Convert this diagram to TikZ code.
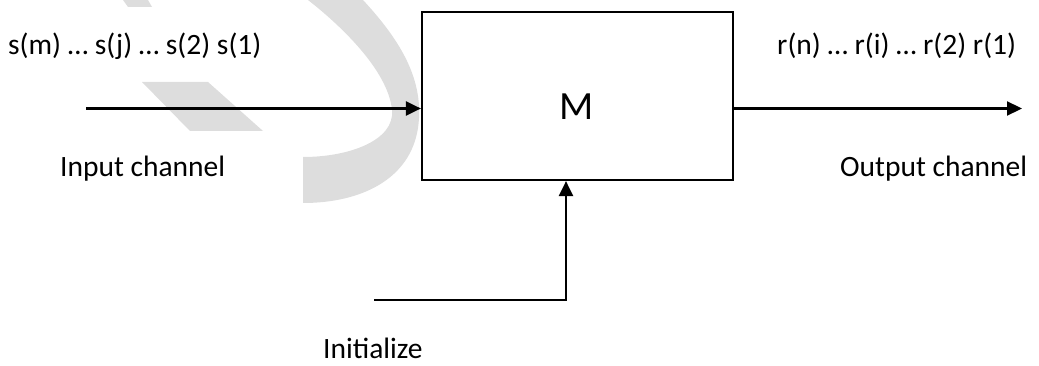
\documentclass[tikz,border=0pt]{standalone}
\usepackage{fontspec}
\setmainfont{Carlito}
\usetikzlibrary{arrows.meta}
\begin{document}
\begin{tikzpicture}[x=1pt,y=-1pt,
  lbl/.style={anchor=base west,inner sep=0pt,font=\fontsize{29.5}{32}\selectfont},
  conn/.style={line width=2.2pt,-{Triangle[length=15pt,width=14pt]}},
  wm/.style={fill={rgb,255:red,221;green,221;blue,221},draw=none}]
\useasboundingbox (0,0) rectangle (1039,366);
% watermark
\fill[wm] (123,0) -- (148,0) -- (152,7) -- (128,7) -- cycle;
\fill[wm] (142,82) -- (208,82) -- (263,131) -- (190,131) -- cycle;
\fill[wm] (308,0) -- (363,0) .. controls (400,40) and (425,80) .. (418,128)
  .. controls (410,180) and (360,203) .. (303,203) -- (303,157)
  .. controls (350,157) and (395,140) .. (392,110)
  .. controls (388,70) and (340,25) .. (308,0) -- cycle;
% box
\node[draw,line width=2.2pt,fill=white,minimum width=311pt,minimum height=168pt,inner sep=0pt] (m) at (577.5,96) {};
\node[anchor=base,inner sep=0pt,font=\fontsize{40}{44}\selectfont] (mlab) at (577,120) {M};
% coordinates
\coordinate (in) at (86,108.5);
\coordinate (out) at (1022,108.5);
\coordinate (init) at (374,300);
\coordinate (corner) at (566,300);
\draw[conn] (in) -- (in -| m.west);
\draw[conn] (out -| m.east) -- (out);
\draw[conn] (init) -- (corner) -- (corner |- m.south);
% labels
\node[lbl] (s) at (8,55) {s(m) … s(j) … s(2) s(1)};
\node[lbl] (ic) at (60,177) {Input channel};
\node[lbl] (r) at (777,55) {r(n) … r(i) … r(2) r(1)};
\node[lbl] (oc) at (840,177) {Output channel};
\node[lbl] (ini) at (323,358.5) {Initialize};
\end{tikzpicture}
\end{document}
